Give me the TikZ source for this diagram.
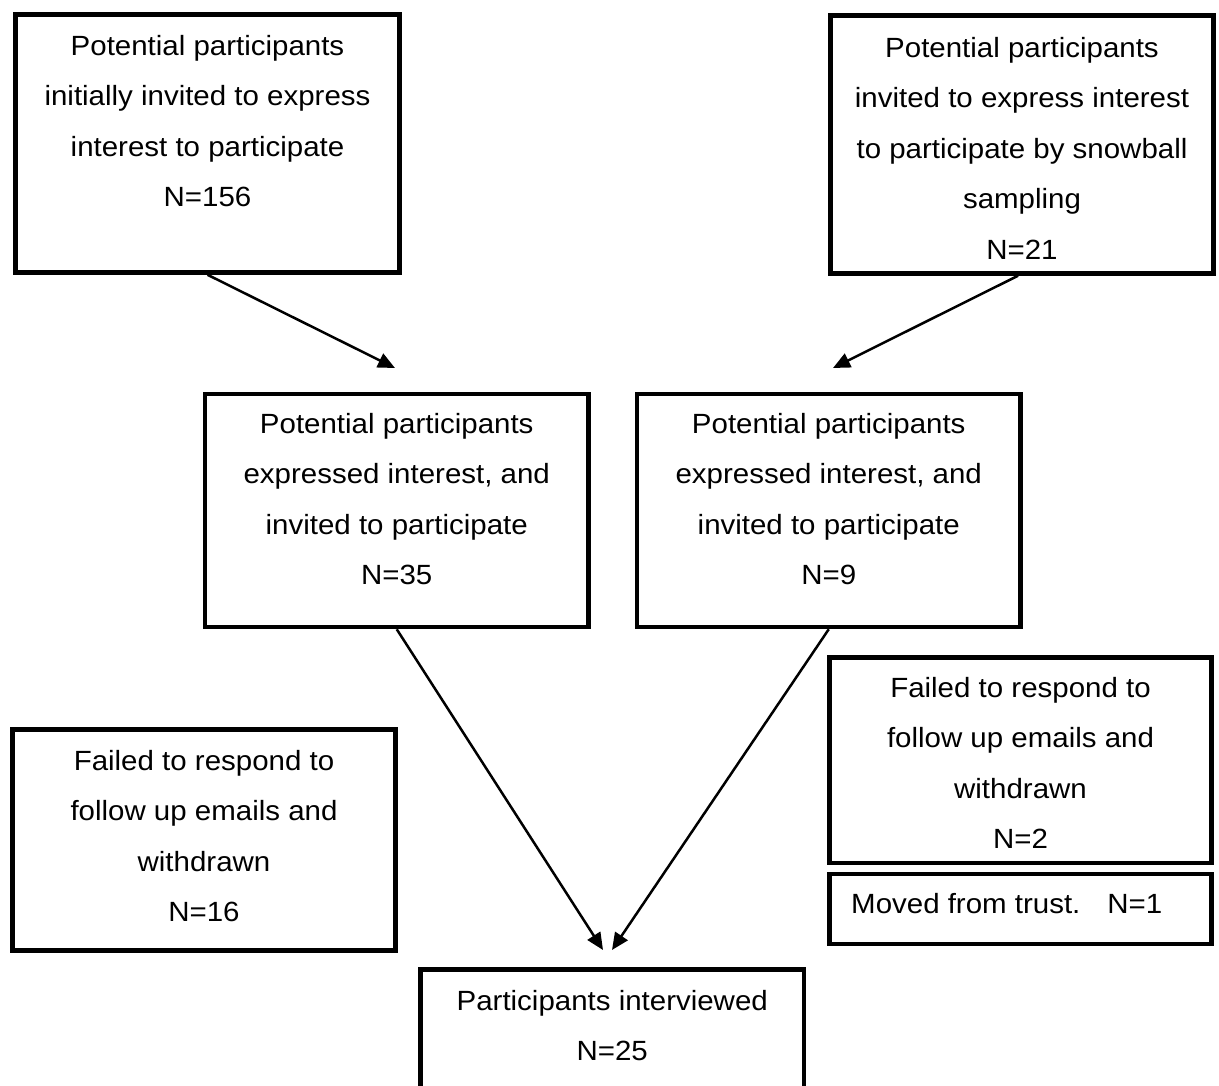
\documentclass[tikz,border=0pt]{standalone}
\usepackage{fontspec}
\setmainfont{Liberation Sans}[FakeStretch=1.06]
\usetikzlibrary{arrows.meta}

\begin{document}
\begin{tikzpicture}[x=1pt,y=-1pt,
  flowbox/.style={draw,line width=4.5pt,inner sep=0pt},
  boxtext/.style={align=center,inner sep=0pt,anchor=north,
    font=\fontsize{27.8}{50.5}\selectfont},
  flow/.style={line width=2.5pt,-{Triangle[length=17pt,width=15pt]}}]

\clip (0,0) rectangle (1219,1086);

% boxes
\node[flowbox,minimum width=384pt,minimum height=258pt] (A) at (207.5,143.5) {};
\node[flowbox,minimum width=383pt,minimum height=258pt] (B) at (1022,144.5) {};
\node[flowbox,minimum width=383.5pt,minimum height=233pt] (C) at (396.75,510.5) {};
\node[flowbox,minimum width=383.5pt,minimum height=233pt] (D) at (828.75,510.5) {};
\node[flowbox,minimum width=383pt,minimum height=221pt] (E) at (204,840) {};
\node[flowbox,minimum width=382pt,minimum height=205.5pt] (F) at (1020.5,760.25) {};
\node[flowbox,minimum width=382pt,minimum height=70pt] (G) at (1020.5,909) {};
\node[flowbox,minimum width=383.5pt,minimum height=130.5pt] (H) at (612.25,1034.75) {};

% texts
\node[boxtext] (tA) at (207.5,35) {Potential participants\\initially invited to express\\interest to participate\\N=156};
\node[boxtext] (tB) at (1022,37) {Potential participants\\invited to express interest\\to participate by snowball\\sampling\\N=21};
\node[boxtext] (tC) at (396.75,413) {Potential participants\\expressed interest, and\\invited to participate\\N=35};
\node[boxtext] (tD) at (828.75,413) {Potential participants\\expressed interest, and\\invited to participate\\N=9};
\node[boxtext] (tE) at (204,750) {Failed to respond to\\follow up emails and\\withdrawn\\N=16};
\node[boxtext] (tF) at (1020.5,677) {Failed to respond to\\follow up emails and\\withdrawn\\N=2};
\node[boxtext,anchor=north west] (tG) at (851,893) {Moved from trust.\hspace{27pt}N=1};
\node[boxtext] (tH) at (612.25,990) {Participants interviewed\\N=25};

% arrow end points
\coordinate (toC) at (395,368);
\coordinate (toD) at (833,368);
\coordinate (toHl) at (603,950);
\coordinate (toHr) at (612,950);

% connectors
\draw[flow] (A.south) -- (toC);
\draw[flow] ([xshift=-4pt]B.south) -- (toD);
\draw[flow] (C.south) -- (toHl);
\draw[flow] (D.south) -- (toHr);
\end{tikzpicture}
\end{document}
